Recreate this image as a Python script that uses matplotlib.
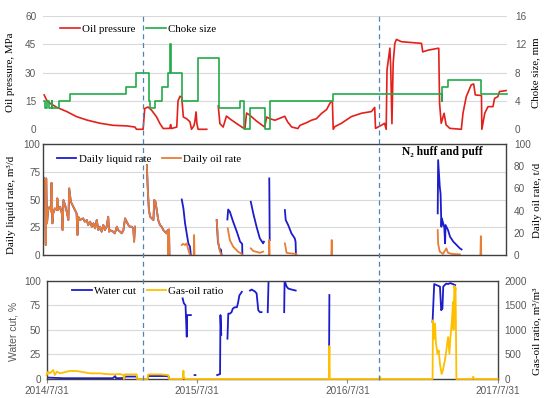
import numpy as np
import matplotlib
matplotlib.use('Agg')
import matplotlib.pyplot as plt
from matplotlib import transforms

nan = np.nan

# x values are days after 2014/7/31
date_ticks = [0, 365, 731, 1096]
date_labels = ['2014/7/31', '2015/7/31', '2016/7/31', '2017/7/31']
event_days = [234, 808]   # dashed markers

# oil pressure, MPa
pres_day = [-7, -1, 7, 24, 48, 72, 97, 129, 161, 194, 214, 218, 234, 238, 246, 255, 267, 275, 283, 299,
            301, 303, 316, 319, 324, 328, 332, 340, 348, 352, 358, 360, 363, 365, 368, 389, nan,
            417, 421, 429, 437, 445, 462, 478, 482, 486, 494, 510, 530, 535, 543, 555, 579, 586, 596, 611, 616,
            632, 644, 656, 668, 681, 691, 695, 697, 701, 717, 741, 766, 790, 798, 800, 814, 822, 826, 828, 835,
            837, 840, 843, 847, 851, 863, 912, 915, 928, 952, 954, 956, 960, 967, 972, 981, 1009, 1013, 1021, 1033,
            1039, 1043, 1058, 1059, 1066, 1074, 1086, 1090, 1098, 1102, 1118]
pres_val = [18.2, 15.5, 13.8, 11.6, 9.4, 6.7, 4.9, 3.2, 2.1, 1.8, 1.2, 0, 0, 11, 11.8, 10, 6.5, 3, 0.4, 0.5,
            2.5, 0.4, 1.2, 15, 17.5, 17, 6.5, 5.6, 4, 0, 2, 4, 9.2, 3, 0, 0, nan,
            12.4, 3, 1.2, 7, 5.6, 3, 0.7, 0.4, 8.6, 7.4, 4.4, 1.2, 6.5, 5.6, 4.8, 6.9, 3.9, 1.2, 0.4, 2.1,
            3.5, 4.8, 5.6, 8.3, 10.5, 14.6, 14.6, 0, 1.4, 3.2, 6.7, 8.5, 9.4, 11.6, 0.5, 2.1, 3.2, 0, 31.4, 43,
            33, 3, 35, 45.5, 47.6, 46.4, 45.5, 41, 41.9, 42.9, 42.9, 13.8, 3.2, 8.5, 2.3, 0.5, 0, 8.5, 17.3, 23.5,
            24, 18.2, 17.9, 0, 8.5, 12, 12, 16.4, 17.3, 20, 20.5]

# choke size, mm (step changes)
choke_day = [-7, -4, 0, 5, 11, 13, 28, 57, 192, 217, 248, 251, 264, 281, 295, 299, 301, 328, 367, 418,
             420, 470, 479, 494, 530, 543, 696, 961, 963, 976, 1058, 1119]
choke_val = [4, 3, 4, 3, 4, 3, 4, 5, 6, 8, 4, 3, 4, 6, 8, 12, 8, 4, 10, 6,
             3, 4, 0, 3, 0, 4, 5, 4, 6, 7, 5, 5]

# early production: liquid and oil rates coincide
early_day = [-10, -7, -5, -3, -2, 0, 3, 7, 10, 11, 13, 15, 19, 24, 25, 27, 32, 36, 38, 40,
             44, 48, 52, 54, 58, 64, 68, 72, 74, 76, 80, 88, 92, 97, 100, 105, 109, 113, 117, 121,
             125, 129, 133, 137, 141, 145, 149, 151, 153, 161, 165, 170, 173, 178, 182, 186, 190, 194, 198, 202,
             206, 210, 212, 214, nan,
             243, 245, 248, 251, 255, 259, 261, 264, 267, 271, 275, 279, 283, 287, 291, 294, 295, 297, 298]
early_rate = [70.5, 69, 67.5, 9, 69, 28.5, 42, 43.5, 39, 65, 28.5, 37.5, 42, 40.5, 51, 40.5, 43.5, 37.5, 22.5, 49.5,
              45, 39, 31.5, 60, 48, 43.5, 40.5, 37.5, 18, 34.5, 31.5, 33, 30, 31.5, 27, 30, 25.5, 28.5, 24, 31.5,
              22.5, 25.5, 21, 27, 22.5, 25.5, 34.5, 21, 22.5, 21, 19.5, 25.5, 22.5, 21, 19.5, 22.5, 33, 30, 27, 25.5,
              25.5, 24, 12, 25.5, nan,
              81, 61.5, 40.5, 34.5, 33, 31.5, 49.5, 48, 40.5, 31, 27, 25.5, 22.5, 21, 19.5, 22.5, 0, 23, 0]

# daily liquid rate, m3/d (later cycles)
liq_day = [nan, 328, 332, 336, 340, 344, 348, 350, nan, 413, 416, 421, 423, 425, nan,
           439, 441, 445, 453, 462, 470, 475, 475.5, nan, 496, 502, 510, 518, 526, 528, nan, 541, 542, nan,
           579, 581, 587, 595, 603, 605, 606, nan,
           951, 952, 956, 958, 960, 961, 967, 969, 970, 976, 981, 989, 997, 1005, 1009]
liq_rate = [nan, 50, 42, 28.5, 19.5, 10.5, 7.5, 0, nan, 31.5, 12, 4, 5, 0, nan,
            32, 41, 39, 30, 21, 12, 10, 0, nan, 48, 37.5, 25.5, 15, 10.5, 12, nan, 69, 13.5, nan,
            40.5, 31.5, 27, 19.5, 15, 12, 0, nan,
            37.5, 85.5, 61.5, 55, 25.5, 33, 25, 10.5, 27, 22.5, 16.5, 12, 9, 6, 5]

# daily oil rate, t/d (later cycles)
oil_day = [nan, 328, 331, 336, 340, 344, 348, nan, 357, 358, 359, nan, 413, 417, 421, 425, nan,
           440, 445, 453, 465, 474, 475, nan, 496, 502, 518, 526, nan, 540, 541, 542, nan,
           579, 583, 591, 607, 608, nan, 692, 693, 694, nan,
           951, 952, 956, 964, 972, 976, 985, 1005, nan, 1055, 1056, 1057]
oil_rate = [nan, 9, 10, 9, 10.5, 4.5, 0, nan, 0, 18, 0, nan, 31.5, 10.5, 3, 0, nan,
            24, 13.5, 7.5, 3, 1, 0, nan, 6, 3.6, 2, 3, nan, 0, 13.5, 0, nan,
            10.5, 2, 1.5, 1, 0, nan, 0, 13.5, 0, nan,
            22.5, 10, 3, 1, 6, 2, 1, 0.5, nan, 0, 17, 0]

# water cut, %
wc_day = [-1, 40, 100, 160, 166, 168, 186, 187, 190, 218, 219, 245, 246, 295, 297, nan,
          330, 333, 337, 340, 341, 348, 350, nan, 359, 361, nan, 414, 421, 422, 424, nan,
          439, 441, 445, 449, 452, 457, 462, 465, 468, 474, nan,
          494, 498, 502, 506, 510, 514, 518, 522, nan, 537, 539, nan,
          577, 578, 583, 587, 595, 605, nan, 686, 687, nan,
          938, 942, 948, 956, 959, 962, 964, 971, 976, 981, 987, 993]
wc_val = [1.5, 0.8, 0.8, 0.8, 3, 0.8, 1, 0, 2.5, 2.5, 0, 0, 3, 3, 0, nan,
          82, 77, 75, 43, 65, 65, 65, nan, 4, 4, nan, 4, 5, 65, 45, nan,
          41, 66.5, 66.5, 68, 71.6, 73, 73, 78, 85, 88.7, nan,
          90, 91, 90, 89, 87, 70, 68, 68, nan, 68, 100, nan,
          68, 100, 94, 92, 91, 90, nan, 0, 85.4, nan,
          58, 96.6, 95.5, 94, 70, 71.6, 94, 97, 96.6, 97.6, 96.6, 95.5]

# gas-oil ratio, m3/m3
gor_day = [-1, 3, 7, 15, 19, 24, 32, 48, 56, 72, 88, 105, 129, 145, 161, 178, 186, 187, 190, 218,
           219, 245, 246, 251, 275, 295, 297, 330, 332, 333, 336, 686, 687, 688, 808, 810, 812, 938, 939, 942,
           944, 946, 950, 953, 956, 960, 963, 966, 968, 971, 974, 976, 979, 981, 983, 985, 988, 989, 991, 993,
           994, 996, 1035, 1037, 1039, 1096]
gor_val = [81, 149, 115, 183, 81, 149, 115, 149, 163, 163, 140, 115, 115, 100, 95, 100, 81, 0, 95, 95,
           0, 0, 89, 95, 95, 80, 0, 0, 170, 40, 0, 0, 671, 0, 0, 48, 0, 0, 1195, 820,
           1127, 750, 512, 580, 307, 102, 170, 300, 375, 546, 751, 853, 512, 785, 990, 1195, 1570, 1000, 1891, 1800,
           1860, 0, 0, 48, 0, 0]

SERIF = ['Liberation Serif', 'DejaVu Serif']
GRAY = '#595959'
FRAME = '#404040'
plt.rcParams['font.family'] = ['Liberation Sans', 'DejaVu Sans']

fig = plt.figure(figsize=(5.5, 3.98), dpi=100)


def box(x0, y0, x1, y1):
    return [x0 / 550, 1 - y1 / 398, (x1 - x0) / 550, (y1 - y0) / 398]


ax1 = fig.add_axes(box(42.5, 16, 506.5, 129.3))
ax2 = fig.add_axes(box(42.5, 144, 505.5, 255))
ax3 = fig.add_axes(box(47, 280.7, 497.5, 379))

# --- top: oil pressure / choke size
l1, = ax1.plot(pres_day, pres_val, color='#e3201b', lw=1.2, clip_on=False, label='Oil pressure')
ax1r = ax1.twinx()
l2, = ax1r.step(choke_day, choke_val, where='post', color='#22aa4a', lw=1.2, clip_on=False, label='Choke size')
ax1.set_xlim(-11, 1119)
ax1.set_ylim(0, 60)
ax1r.set_ylim(0, 16)
ax1.set_yticks([0, 15, 30, 45, 60])
ax1r.set_yticks([0, 4, 8, 12, 16])
ax1.yaxis.grid(True, color='#d9d9d9', lw=0.8)
for a in (ax1, ax1r):
    for s in a.spines.values():
        s.set_visible(False)

# --- middle: daily rates
ax2.plot(early_day + liq_day, early_rate + liq_rate, color='#1c1ccc', lw=1.3, label='Daily liquid rate')
ax2.plot(early_day + oil_day, early_rate + oil_rate, color='#e87d36', lw=1.3, label='Daily oil rate')
ax2r = ax2.twinx()
ax2.set_xlim(-11, 1116)
ax2.set_ylim(0, 100)
ax2r.set_ylim(0, 100)
ax2.set_yticks([0, 25, 50, 75, 100])
ax2r.set_yticks([0, 20, 40, 60, 80, 100])
ax2.yaxis.grid(True, color='#d9d9d9', lw=0.8)
ax2.text(963, 92.5, 'N₂ huff and puff', ha='center', va='center', fontsize=8.3,
         fontweight='bold', family=SERIF)

# --- bottom: water cut / GOR
l5, = ax3.plot(wc_day, wc_val, color='#1c1ccc', lw=1.3, label='Water cut')
ax3r = ax3.twinx()
l6, = ax3r.plot(gor_day, gor_val, color='#ffbf00', lw=1.3, clip_on=False, zorder=3, label='Gas-oil ratio')
ax3.set_xlim(0, 1096)
ax3.set_ylim(0, 100)
ax3r.set_ylim(0, 2000)
ax3.set_yticks([0, 25, 50, 75, 100])
ax3r.set_yticks([0, 500, 1000, 1500, 2000])
ax3.yaxis.grid(True, color='#d9d9d9', lw=0.8)
ax3.set_xticks(date_ticks)
ax3.set_xticklabels(date_labels)
ax3.tick_params(axis='x', length=3, width=0.8, color='#888888', labelsize=7.2,
                labelcolor=GRAY, pad=2)

for a in (ax2, ax3):
    for s in a.spines.values():
        s.set_color(FRAME)
        s.set_linewidth(1.0)
for a in (ax2r, ax3r):
    for s in a.spines.values():
        s.set_visible(False)

for a in (ax1, ax1r, ax2, ax2r):
    a.set_xticks([])
for a, p in ((ax1, 4.5), (ax2, 1.5), (ax3, 4.5)):
    a.tick_params(axis='y', length=0, labelsize=7.2, labelcolor=GRAY, pad=p)
    a.set_axisbelow(True)
for a, p in ((ax1r, 6), (ax2r, 6), (ax3r, 5)):
    a.tick_params(axis='y', length=0, labelsize=7.2, labelcolor=GRAY, pad=p)

leg_font = {'family': SERIF, 'size': 7.8}
leg_kw = dict(ncol=2, frameon=False, prop=leg_font, loc='center left', borderpad=0,
              borderaxespad=0, handlelength=1.8, handletextpad=0.2, columnspacing=1.0)
ax1r.legend([l1, l2], ['Oil pressure', 'Choke size'], bbox_to_anchor=(0.038, 0.885), **leg_kw)
ax2r.legend(*ax2.get_legend_handles_labels(), bbox_to_anchor=(0.031, 0.865), **leg_kw)
ax3r.legend([l5, l6], ['Water cut', 'Gas-oil ratio'], bbox_to_anchor=(0.056, 0.895), **leg_kw)

# axis titles
lab = dict(rotation=90, ha='center', va='center', family=SERIF, fontsize=7.8)
fig.text(11 / 550, 1 - 72 / 398, 'Oil pressure, MPa', **lab)
fig.text(536 / 550, 1 - 73 / 398, 'Choke size, mm', **lab)
fig.text(12 / 550, 1 - 205 / 398, 'Daily liquid rate, m³/d', **lab)
fig.text(538 / 550, 1 - 200 / 398, 'Daily oil rate, t/d', **lab)
fig.text(13 / 550, 1 - 331 / 398, 'Water cut, %', rotation=90, ha='center', va='center',
         fontsize=7.5, color=GRAY)
fig.text(537 / 550, 1 - 331 / 398, 'Gas-oil ratio, m³/m³', **lab)

# dashed event markers across all panels
trans = transforms.blended_transform_factory(ax3.transData, fig.transFigure)
for d in event_days:
    fig.add_artist(plt.Line2D([d, d], [1 - 380 / 398, 1 - 15 / 398], transform=trans,
                              color='#4f83b5', lw=0.9, ls=(0, (4, 3))))

fig.savefig('out.png', dpi=100)
